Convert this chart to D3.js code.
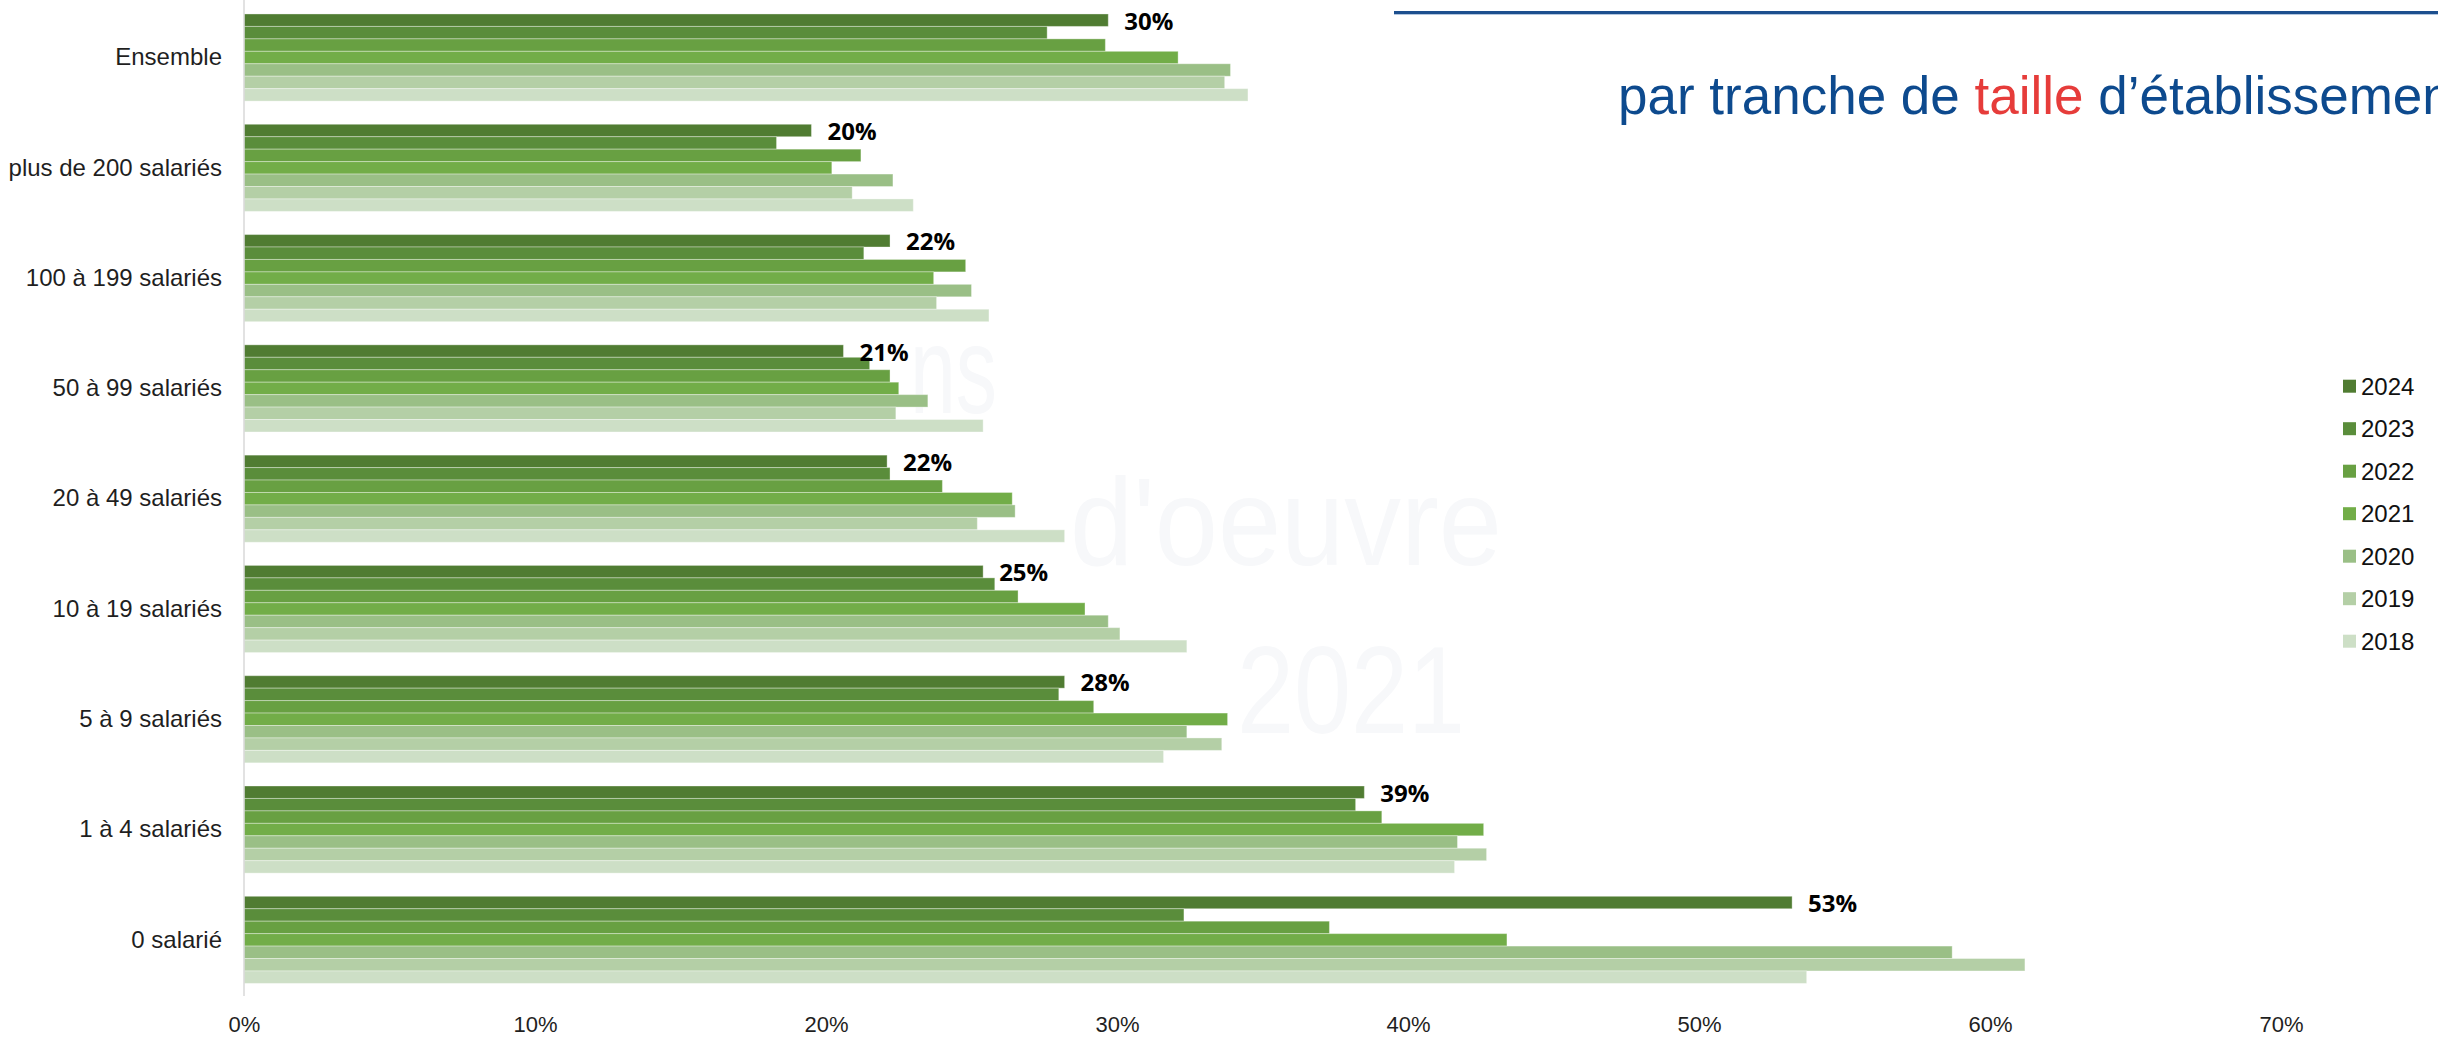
<!DOCTYPE html>
<html lang="fr">
<head>
  <meta charset="UTF-8">
  <title>Par tranche de taille d'établissement</title>
  <script src="https://cdn.jsdelivr.net/npm/d3@7"></script>
  <style>
    body { margin: 0; background: #fff; }
    svg { display: block; }
  </style>
</head>
<body>
  <div id="chart"></div>
  <script>
    // categories, top to bottom
    const categories = ['Ensemble', 'plus de 200 salariés', '100 à 199 salariés', '50 à 99 salariés',
      '20 à 49 salariés', '10 à 19 salariés', '5 à 9 salariés', '1 à 4 salariés', '0 salarié'];
    const years = ['2024', '2023', '2022', '2021', '2020', '2019', '2018'];

    // values in %, same order as categories
    const v2024 = [29.7, 19.5, 22.2, 20.6, 22.1, 25.4, 28.2, 38.5, 53.2];
    const v2023 = [27.6, 18.3, 21.3, 21.5, 22.2, 25.8, 28.0, 38.2, 32.3];
    const v2022 = [29.6, 21.2, 24.8, 22.2, 24.0, 26.6, 29.2, 39.1, 37.3];
    const v2021 = [32.1, 20.2, 23.7, 22.5, 26.4, 28.9, 33.8, 42.6, 43.4];
    const v2020 = [33.9, 22.3, 25.0, 23.5, 26.5, 29.7, 32.4, 41.7, 58.7];
    const v2019 = [33.7, 20.9, 23.8, 22.4, 25.2, 30.1, 33.6, 42.7, 61.2];
    const v2018 = [34.5, 23.0, 25.6, 25.4, 28.2, 32.4, 31.6, 41.6, 53.7];
    const xTicks = [0, 10, 20, 30, 40, 50, 60, 70];

    const seriesValues = { '2024': v2024, '2023': v2023, '2022': v2022, '2021': v2021,
      '2020': v2020, '2019': v2019, '2018': v2018 };
    const colors = { '2024': '#507c32', '2023': '#5a8d3b', '2022': '#68a042', '2021': '#72ad48',
      '2020': '#9abf86', '2019': '#b4cfa6', '2018': '#cddfc6' };

    const width = 2438;
    const height = 1037;

    const svg = d3.select('#chart').append('svg')
      .attr('width', width)
      .attr('height', height);

    // faint watermark behind the chart
    const wm = svg.append('g')
      .attr('fill', '#f7f8fa')
      .style('font-family', "'Liberation Sans', Arial, sans-serif")
      .style('font-size', '125px');
    wm.append('text').attr('x', 910).attr('y', 413)
      .attr('textLength', 87).attr('lengthAdjust', 'spacingAndGlyphs').text('ns');
    wm.append('text').attr('x', 1070).attr('y', 565)
      .attr('textLength', 432).attr('lengthAdjust', 'spacingAndGlyphs').text('d\'oeuvre');
    wm.append('text').attr('x', 1237).attr('y', 733)
      .attr('textLength', 228).attr('lengthAdjust', 'spacingAndGlyphs').text('2021');

    const x = d3.scaleLinear().domain([0, 70]).range([244, 2281]);
    const y = d3.scaleBand().domain(categories).range([2.4, 995])
      .paddingInner(0.21).paddingOuter(0.105);
    const yy = d3.scaleBand().domain(years).range([0, y.bandwidth()]);

    const rows = [];
    categories.forEach((c, i) => {
      years.forEach(yr => rows.push({ cat: c, year: yr, value: seriesValues[yr][i] }));
    });

    svg.append('g')
      .selectAll('rect')
      .data(rows)
      .enter()
      .append('rect')
      .attr('x', x(0))
      .attr('y', d => y(d.cat) + yy(d.year))
      .attr('width', d => x(d.value) - x(0))
      .attr('height', yy.bandwidth())
      .attr('fill', d => colors[d.year])
      .attr('stroke', '#ffffff')
      .attr('stroke-opacity', 0.35)
      .attr('stroke-width', 1);

    // labels on the 2024 bars
    svg.append('g')
      .selectAll('text')
      .data(categories)
      .enter()
      .append('text')
      .attr('x', (d, i) => x(v2024[i]) + 16)
      .attr('y', d => y(d) + yy('2024') + yy.bandwidth() / 2)
      .attr('dominant-baseline', 'central')
      .style('font-family', "'Open Sans', sans-serif")
      .style('font-weight', 'bold')
      .style('font-size', '24px')
      .attr('fill', '#000')
      .text((d, i) => Math.round(v2024[i]) + '%');

    const yAxis = d3.axisLeft(y).tickSize(0).tickSizeOuter(0).tickPadding(22);
    const gy = svg.append('g')
      .attr('transform', 'translate(' + x(0) + ',0)')
      .call(yAxis);
    gy.select('.domain').attr('stroke', '#d9d9d9').attr('stroke-width', 1.5)
      .attr('d', 'M0,0V996');
    gy.selectAll('text')
      .style('font-family', "'Liberation Sans', Arial, sans-serif")
      .style('font-size', '24px')
      .attr('fill', '#1f1f1f');

    const xAxis = d3.axisBottom(x).tickValues(xTicks).tickFormat(d => d + '%')
      .tickSize(0).tickPadding(0);
    const gx = svg.append('g')
      .attr('transform', 'translate(0,1016)')
      .call(xAxis);
    gx.select('.domain').remove();
    gx.selectAll('text')
      .style('font-family', "'Liberation Sans', Arial, sans-serif")
      .style('font-size', '22px')
      .attr('fill', '#1f1f1f');

    // legend
    const legend = svg.append('g')
      .selectAll('g')
      .data(years)
      .enter()
      .append('g')
      .attr('transform', (d, i) => 'translate(2343,' + (386.2 + i * 42.5) + ')');
    legend.append('rect')
      .attr('x', 0).attr('y', -6.5)
      .attr('width', 13).attr('height', 13)
      .attr('fill', d => colors[d]);
    legend.append('text')
      .attr('x', 18).attr('y', 0)
      .attr('dominant-baseline', 'central')
      .style('font-family', "'Liberation Sans', Arial, sans-serif")
      .style('font-size', '24px')
      .attr('fill', '#111')
      .text(d => d);

    // title and rule at the top right
    svg.append('line')
      .attr('x1', 1394).attr('x2', width)
      .attr('y1', 12.5).attr('y2', 12.5)
      .attr('stroke', '#1c4f8e').attr('stroke-width', 3);
    svg.append('line')
      .attr('x1', 1394).attr('x2', width)
      .attr('y1', 14.5).attr('y2', 14.5)
      .attr('stroke', '#b3c6de').attr('stroke-width', 1);

    const title = svg.append('text')
      .attr('x', 1618).attr('y', 114)
      .style('font-family', "'Liberation Sans', Arial, sans-serif")
      .style('font-size', '53px')
      .attr('fill', '#0d4a8e');
    title.append('tspan').text('par tranche de ');
    title.append('tspan').attr('fill', '#e63c3a').text('taille');
    title.append('tspan').text(' d\u2019établissement');
  </script>
</body>
</html>
